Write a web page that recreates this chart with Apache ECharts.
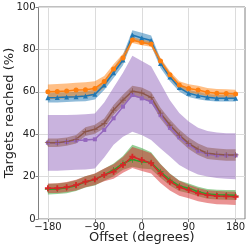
<!DOCTYPE html>
<html><head><meta charset="utf-8">
<script src="https://cdn.jsdelivr.net/npm/echarts@6/dist/echarts.min.js"></script>
<style>html,body{margin:0;padding:0;background:#fff}#c{width:249px;height:249px}</style>
</head><body><div id="c"></div>
<script>
var offsets = [-180,-162,-144,-126,-108,-90,-72,-54,-36,-18,0,18,36,54,72,90,108,126,144,162,180];
var xTicks = [-180,-90,0,90,180];
var yTicks = [0,20,40,60,80,100];

var blueMean = [57.2,57.3,57.5,57.7,58,58.8,63.2,69,75,86.8,85.4,84.2,73.4,67,62,59.3,58.2,57.4,57,57,57];
var blueLo   = [55,55,55.2,55.4,55.6,56.4,60.8,66.5,72.5,84.2,83,81.8,71.2,65,60.2,57.6,56.5,55.8,55.4,55.4,55.4];
var blueHi   = [59.3,59.5,59.7,60,60.3,61,65.5,71.5,77.5,89,87.8,86.5,75.6,69,63.8,61,59.9,59,58.6,58.6,58.6];

var orangeMean = [60,60.2,60.4,60.8,61,61.6,64.8,70.8,76,84.4,83.3,82.6,74.5,68,63.2,61.6,60.8,59.8,59.3,59.2,59];
var orangeLo   = [56.5,56.7,56.9,57.3,57.5,58.3,62,68.5,74,83,82,81.2,73,66.3,61.3,59.6,58.8,57.8,57.3,57.2,57];
var orangeHi   = [63.5,63.7,63.9,64.3,64.5,65,67.5,73,78,85.8,84.6,84,76,69.7,65,63.6,62.8,61.8,61.3,61.2,61];

var greenMean = [14,14.2,14.7,15.7,17.5,18.6,20.8,23.1,26.3,28,27,26.6,22.3,18.4,15.6,14.5,12.9,11.8,11.4,11.3,11.2];
var greenLo   = [11.6,11.8,12.2,13.2,14.8,15.8,18,20.2,23.2,24.6,23.8,23.5,19.5,15.8,13.2,12.2,10.7,9.6,9.2,9.1,9];
var greenHi   = [16.5,16.7,17.2,18.3,20.2,21.4,23.7,26.2,29.7,35,33.5,31.5,26,21.5,18.2,16.8,15.2,14.2,13.8,13.7,13.7];

var redMean = [14.5,14.5,15,16,17.6,18.7,20.8,22.3,25.5,29.4,27.8,26.3,21.5,17.6,15,13.7,12.1,11.3,10.8,10.7,10.5];
var redLo   = [12.3,12.3,12.7,13.5,15,16,17.8,19,21.8,24,22.6,21.5,17,13.5,11,9.8,8.4,7.6,7,6.8,6.6];
var redHi   = [16.8,16.9,17.4,18.5,20.2,21.5,23.8,25.8,29.2,34,32.5,31,25.8,21.3,18,16.2,14.6,13.6,13.2,13,12.9];

var purpleMean = [36,36,36.3,37,37.3,37.6,42,47.5,53,58.5,56.9,55.3,49,43,38.5,35,32,30.5,30,30,30];
var purpleLo   = [22.8,22.8,23,23.2,23.4,23.8,29,35,38.8,41.2,39.6,37.3,33.3,29.5,25.5,23,21,20,19.3,19,18.7];
var purpleHi   = [49,49,49,49.2,49.4,49.8,55,62,69,77,74.5,72,64,56,50,46,43,41.5,40.8,40.5,40.4];

var brownMean = [36,36,36.5,37.6,41.2,42.3,45.1,51.4,56.1,60.3,59.5,57.4,49.9,44.3,39.6,35.7,32.9,31,30.5,30.2,30.2];
var brownLo   = [34,34,34.5,35.6,39.1,40.2,42.8,49,53.6,57.8,57,54.9,47.3,41.7,37,33,30.2,28.3,27.8,27.5,27.5];
var brownHi   = [38,38,38.5,39.6,43.3,44.4,47.4,53.8,58.6,62.8,62,59.9,52.5,46.9,42.2,38.4,35.6,33.7,33.2,32.9,32.9];

var PLUS_THICK = 'path://M3.5,0H6.5V3.5H10V6.5H6.5V10H3.5V6.5H0V3.5H3.5Z';
var PLUS_THIN = 'path://M4.4,0H5.6V4.4H10V5.6H5.6V10H4.4V5.6H0V4.4H4.4Z';
var VBAR = 'path://M4.3,0H5.7V10H4.3Z';

var groups = [
  {name:'blue', color:'#1f77b4', mean:blueMean, lo:blueLo, hi:blueHi, symbol:'triangle', size:5},
  {name:'orange', color:'#ff7f0e', mean:orangeMean, lo:orangeLo, hi:orangeHi, symbol:'circle', size:5},
  {name:'green', color:'#2ca02c', mean:greenMean, lo:greenLo, hi:greenHi, symbol:PLUS_THIN, size:6},
  {name:'red', color:'#d62728', mean:redMean, lo:redLo, hi:redHi, symbol:PLUS_THICK, size:6},
  {name:'purple', color:'#9467bd', mean:purpleMean, lo:purpleLo, hi:purpleHi, symbol:VBAR, size:4},
  {name:'brown', color:'#8c564b', mean:brownMean, lo:brownLo, hi:brownHi, symbol:PLUS_THIN, size:6}
];

function pairs(arr){ return offsets.map(function(x,i){ return [x, arr[i]]; }); }

var series = [];
groups.forEach(function(g){
  series.push({type:'custom', name:g.name+'Band', silent:true, animation:false,
    data:offsets.map(function(x,i){ return [x, g.lo[i], g.hi[i]]; }),
    encode:{x:0, y:[1,2]},
    renderItem:function(params, api){
      if (params.dataIndex !== 0) return null;
      var pts = [];
      for (var i = 0; i < offsets.length; i++) pts.push(api.coord([offsets[i], g.hi[i]]));
      for (var j = offsets.length - 1; j >= 0; j--) pts.push(api.coord([offsets[j], g.lo[j]]));
      return {type:'polygon', shape:{points:pts}, style:{fill:g.color, opacity:0.5}};
    }
  });
  series.push({type:'line', name:g.name, data:pairs(g.mean), symbol:g.symbol, symbolSize:g.size, showAllSymbol:true,
    itemStyle:{color:g.color}, lineStyle:{color:g.color, width:1.5}, animation:false, clip:false});
});

var chart = echarts.init(document.getElementById('c'), null, {renderer:'canvas'});
chart.setOption({
  animation:false,
  grid:{left:38.5, right:4, top:7, bottom:30, outerBoundsMode:'none', containLabel:false,
    show:true, borderColor:'#808080', borderWidth:1, backgroundColor:'transparent'},
  xAxis:{type:'value', position:'bottom', min:-198, max:198,
    name:'Offset (degrees)', nameLocation:'middle', nameGap:12, nameMoveOverlap:false,
    nameTextStyle:{fontFamily:'DejaVu Sans', fontSize:13, color:'#222'},
    axisLine:{show:false, onZero:false},
    axisTick:{show:true, length:3, customValues:xTicks, lineStyle:{color:'#808080'}},
    axisLabel:{customValues:xTicks, fontFamily:'DejaVu Sans', fontSize:10, color:'#222', margin:3,
      formatter:function(v){ return v<0 ? '\u2212'+Math.abs(v) : String(v); }},
    splitLine:{show:true, lineStyle:{color:'#dcdcdc', width:1}}
  },
  yAxis:{type:'value', position:'left', min:0, max:100, interval:20,
    name:'Targets reached (%)', nameLocation:'middle', nameGap:22, nameMoveOverlap:false,
    nameTextStyle:{fontFamily:'DejaVu Sans', fontSize:13, color:'#222'},
    axisLine:{show:false, onZero:false},
    axisTick:{show:true, length:3, lineStyle:{color:'#808080'}},
    axisLabel:{fontFamily:'DejaVu Sans', fontSize:10, color:'#222', margin:3},
    splitLine:{show:true, lineStyle:{color:'#dcdcdc', width:1}}
  },
  series:series
});
</script></body></html>
